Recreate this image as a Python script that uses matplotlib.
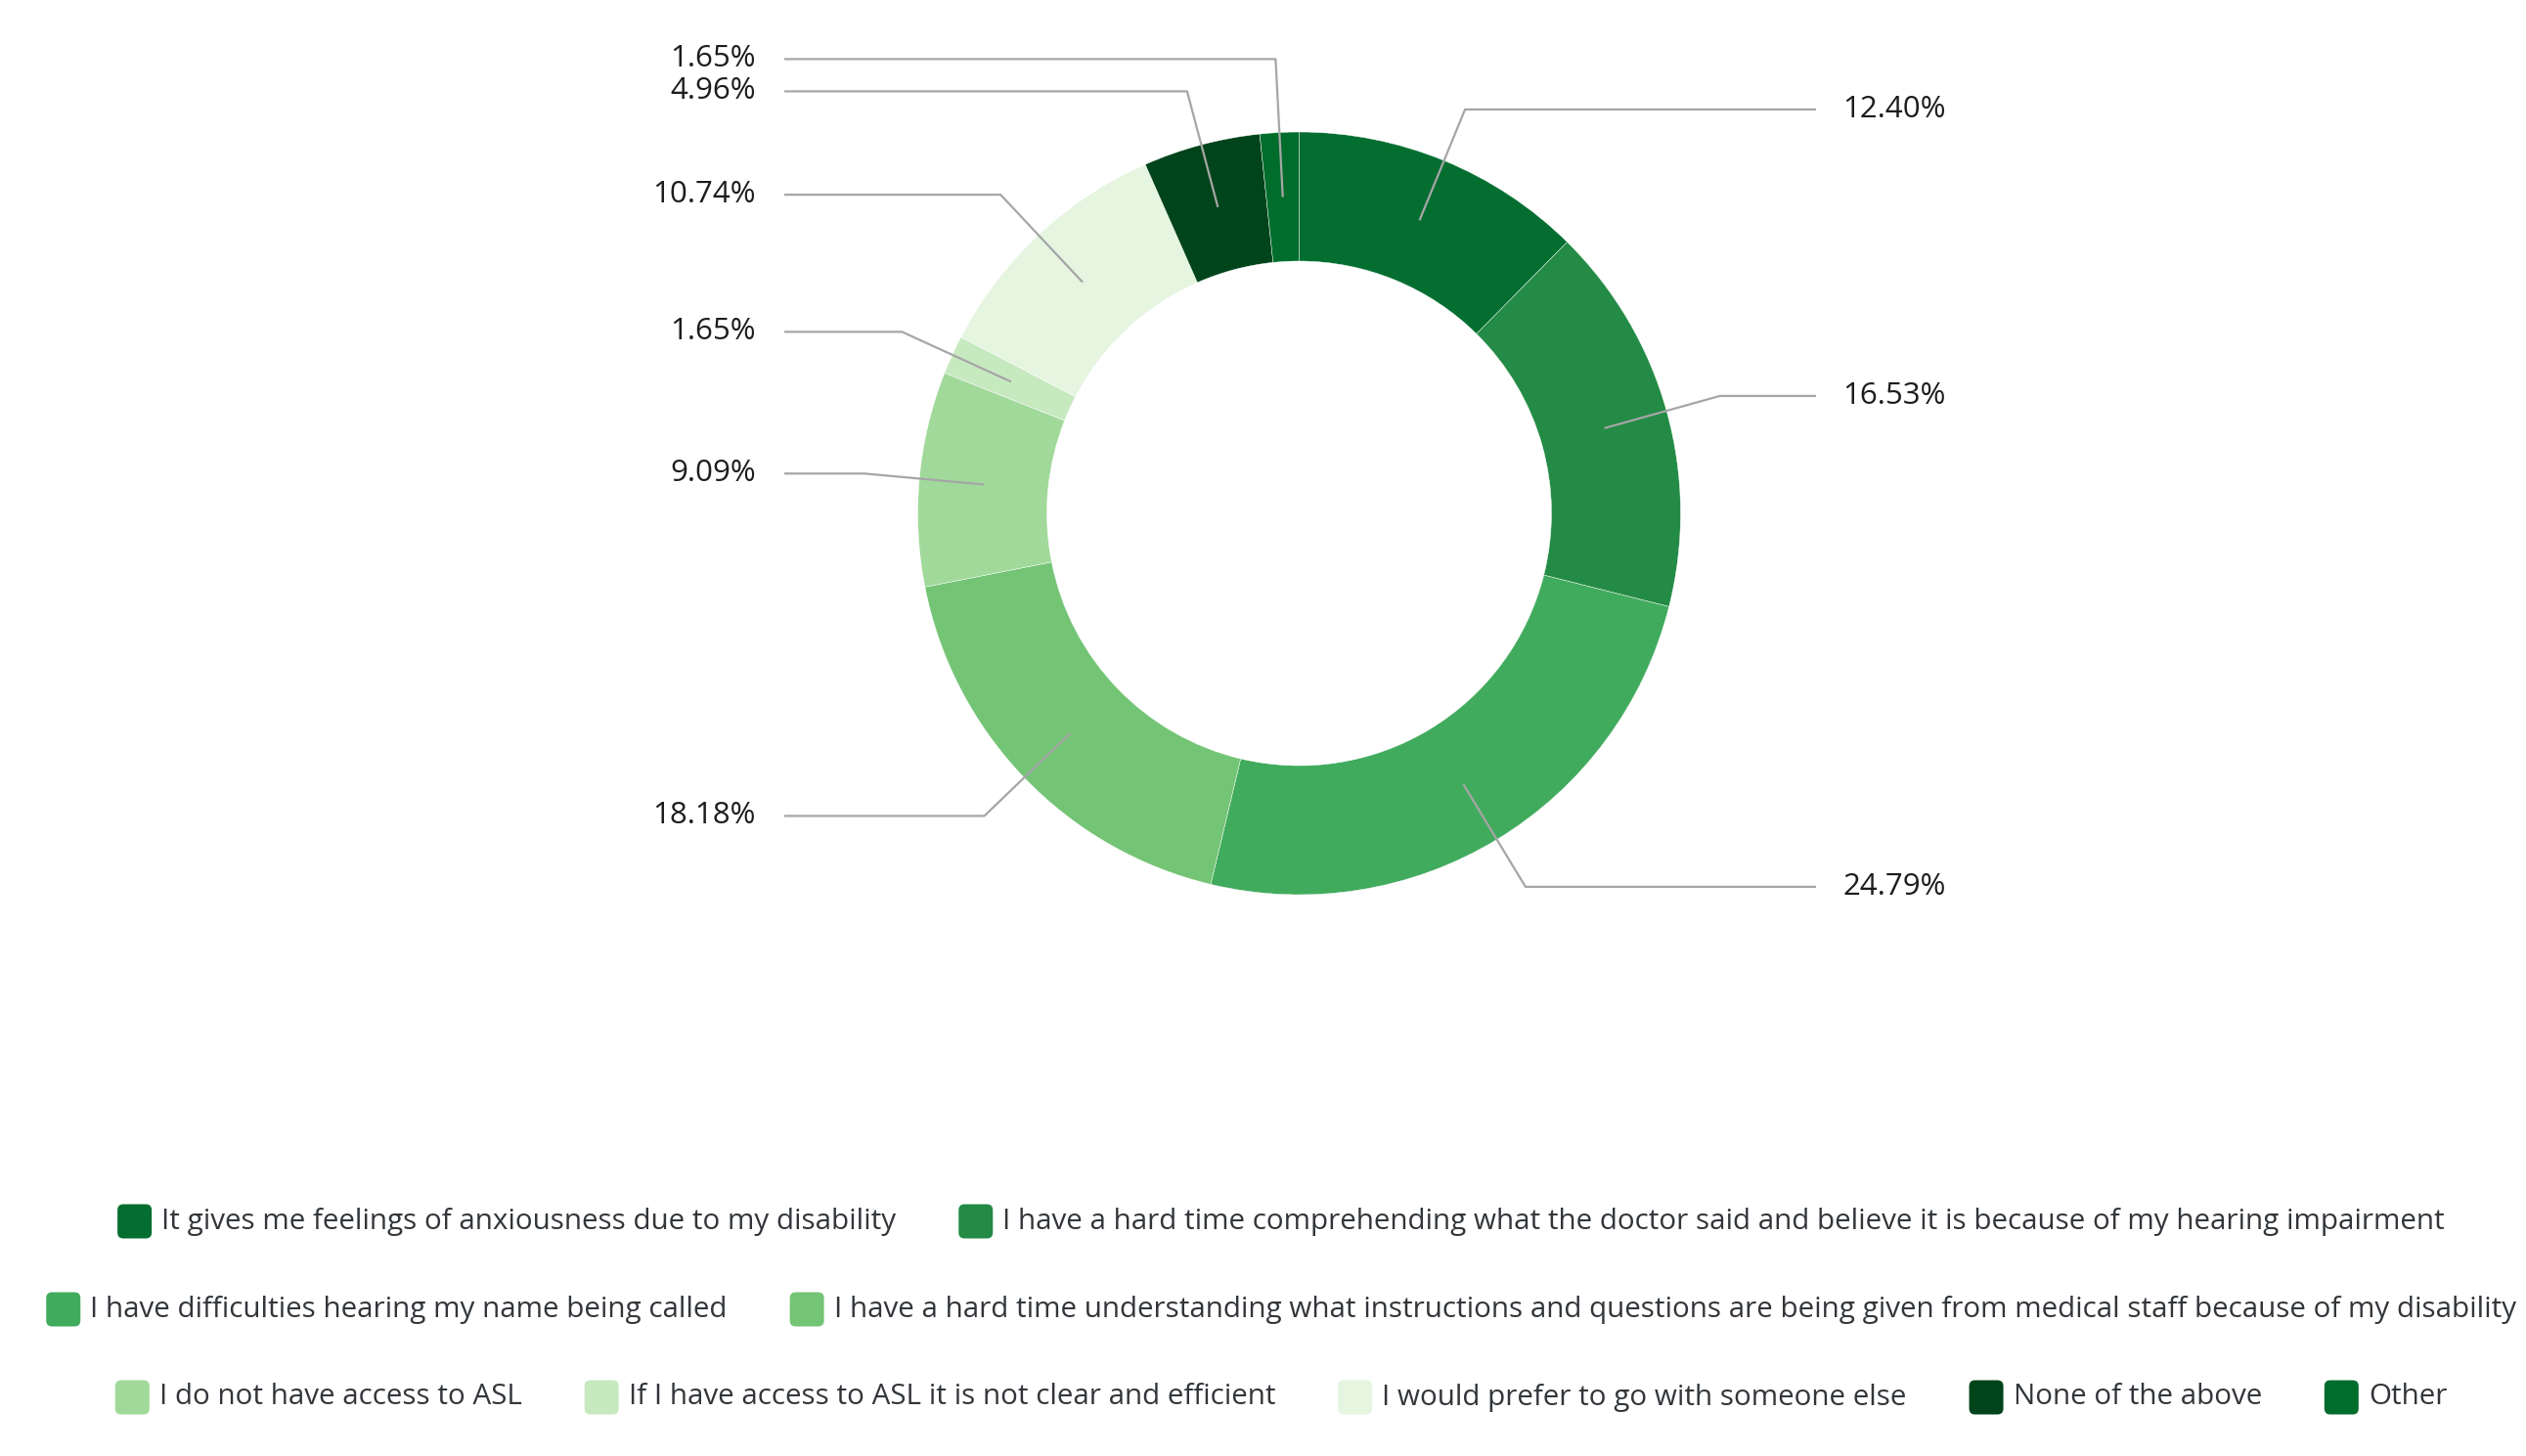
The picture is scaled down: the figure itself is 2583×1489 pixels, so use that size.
import numpy as np
import matplotlib
matplotlib.use("Agg")
import matplotlib.pyplot as plt
from matplotlib.patches import FancyBboxPatch

categories = [
    "It gives me feelings of anxiousness due to my disability",
    "I have a hard time comprehending what the doctor said and believe it is because of my hearing impairment",
    "I have difficulties hearing my name being called",
    "I have a hard time understanding what instructions and questions are being given from medical staff because of my disability",
    "I do not have access to ASL",
    "If I have access to ASL it is not clear and efficient",
    "I would prefer to go with someone else",
    "None of the above",
    "Other",
]
values = [12.40, 16.53, 24.79, 18.18, 9.09, 1.65, 10.74, 4.96, 1.65]
colors = ["#036E30", "#238B45", "#41AB5D", "#74C476", "#A1D99B",
          "#C7E9C0", "#E5F5E0", "#00441B", "#006D2C"]

W, H = 2583, 1489
plt.rcParams['font.family'] = ['Open Sans', 'DejaVu Sans']

fig = plt.figure(figsize=(W / 100, H / 100), dpi=100)
ax = fig.add_axes([0, 0, 1, 1])

cx, cy = 1328.5, H - 525
R = 390
ring = 132

wedges, _ = ax.pie(values, colors=colors, startangle=90, counterclock=False,
                   radius=R, center=(cx, cy),
                   wedgeprops=dict(width=ring, edgecolor="white", linewidth=0.3))
ax.set_xlim(0, W)
ax.set_ylim(0, H)
ax.set_aspect("equal")
ax.axis("off")

# leader lines and labels
r_mid = R - ring / 2
r_elb = 1.145 * R
x_right_end, x_right_text = 1857, 1884
x_left_end, x_left_text = 802, 773
gap = 33
prev = {"L": None, "R": None}
for w, v in zip(wedges, values):
    th = np.deg2rad((w.theta1 + w.theta2) / 2)
    c, s = np.cos(th), np.sin(th)
    p0 = (cx + r_mid * c, cy + r_mid * s)
    ey = cy + r_elb * s
    side = "R" if c > 0 else "L"
    if prev[side] is not None:
        if side == "R":
            ey = min(ey, prev[side] - gap)
        else:
            ey = max(ey, prev[side] + gap)
    prev[side] = ey
    re = (ey - cy) / s if abs(s) > 1e-6 else r_elb
    ex = cx + re * c
    if side == "R":
        xs = [p0[0], ex, x_right_end]
        tx, ha = x_right_text, "left"
    else:
        xs = [p0[0], ex, x_left_end]
        tx, ha = x_left_text, "right"
    ax.plot(xs, [p0[1], ey, ey], color="#a6a6a6", lw=1.6, solid_capstyle="butt", zorder=3)
    ax.text(tx, ey, f"{v:.2f}%", ha=ha, va="center", fontsize=22.5, color="#1d1d1d")

# legend (custom, centered rows)
fig.canvas.draw()
renderer = fig.canvas.get_renderer()
fs_leg = 21.3
msz = 35
m_gap = 10
item_gap = 64
max_w = 2560
center_x = 1310
row_y = [H - 1249, H - 1339, H - 1429]

# measure
widths = []
for cat in categories:
    t = ax.text(0, 0, cat, fontsize=fs_leg)
    bb = t.get_window_extent(renderer)
    widths.append(bb.width)
    t.remove()

rows = []
cur, cur_w = [], 0
for i, wd in enumerate(widths):
    item_w = msz + m_gap + wd
    add = item_w if not cur else item_gap + item_w
    if cur and cur_w + add > max_w:
        rows.append(cur)
        cur, cur_w = [i], item_w
    else:
        cur.append(i)
        cur_w += add
rows.append(cur)

for ri, row in enumerate(rows):
    total = sum(msz + m_gap + widths[i] for i in row) + item_gap * (len(row) - 1)
    x = center_x - total / 2
    y = row_y[min(ri, len(row_y) - 1)]
    for i in row:
        ax.add_patch(FancyBboxPatch((x + 3, y - msz / 2 + 3), msz - 6, msz - 6,
                                    boxstyle="round,pad=3,rounding_size=6",
                                    fc=colors[i], ec="none"))
        ax.text(x + msz + m_gap, y, categories[i], fontsize=fs_leg, va="center",
                ha="left", color="#32363a")
        x += msz + m_gap + widths[i] + item_gap

fig.savefig("out.png", dpi=100, facecolor="white")
